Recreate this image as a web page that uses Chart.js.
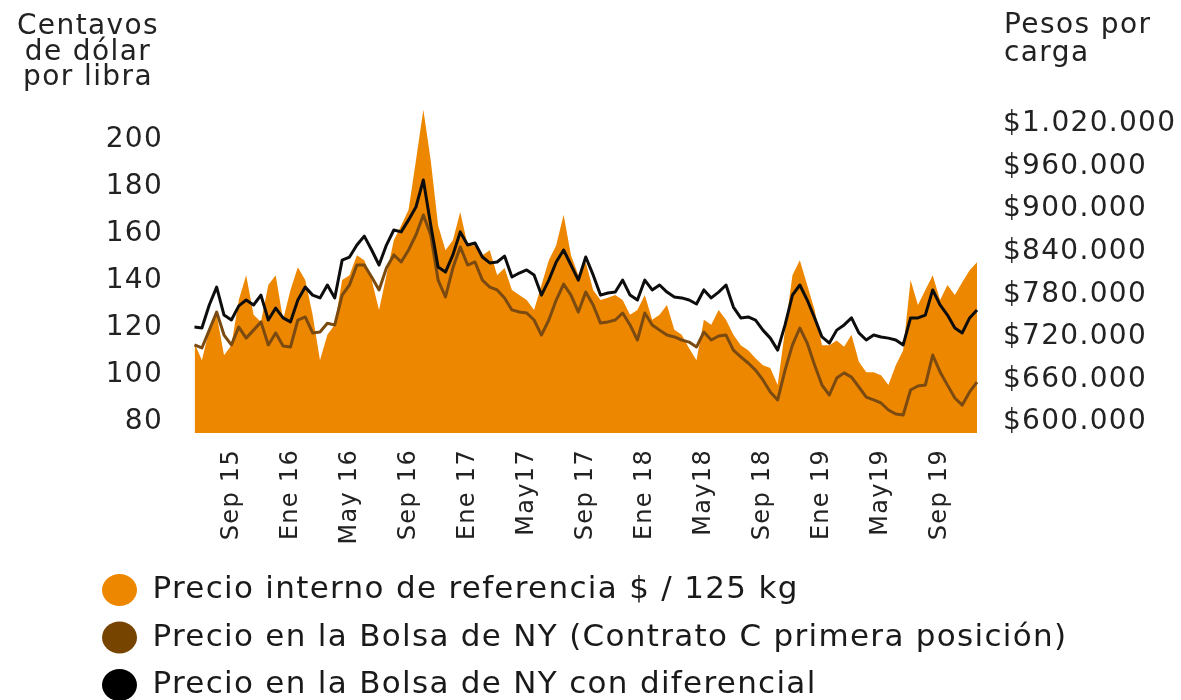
<!DOCTYPE html>
<html><head><meta charset="utf-8">
<script src="https://cdn.jsdelivr.net/npm/chart.js@4.4.1/dist/chart.umd.min.js"></script>
<style>
html,body{margin:0;padding:0;background:#fff;overflow:hidden;}
#wrap{position:relative;width:1181px;height:720px;}
.ttl{position:absolute;font-family:'DejaVu Sans',sans-serif;font-size:28px;letter-spacing:1.4px;color:#222;white-space:nowrap;}
</style></head><body>
<div id="wrap"><canvas id="c"></canvas>
<div class="ttl" style="left:0;width:176px;top:12px;line-height:25.5px;text-align:center">Centavos<br>de dólar<br>por libra</div>
<div class="ttl" style="left:1004px;top:10px;line-height:28px;text-align:left">Pesos por<br>carga</div>
</div>
<script>
const categories = [
"2015-06-15",
"2015-07-01","2015-07-15","2015-08-01","2015-08-15","2015-09-01","2015-09-15","2015-10-01","2015-10-15","2015-11-01","2015-11-15","2015-12-01","2015-12-15",
"2016-01-01","2016-01-15","2016-02-01","2016-02-15","2016-03-01","2016-03-15","2016-04-01","2016-04-15","2016-05-01","2016-05-15","2016-06-01","2016-06-15",
"2016-07-01","2016-07-15","2016-08-01","2016-08-15","2016-09-01","2016-09-15","2016-10-01","2016-10-15","2016-11-01","2016-11-15","2016-12-01","2016-12-15",
"2017-01-01","2017-01-15","2017-02-01","2017-02-15","2017-03-01","2017-03-15","2017-04-01","2017-04-15","2017-05-01","2017-05-15","2017-06-01","2017-06-15",
"2017-07-01","2017-07-15","2017-08-01","2017-08-15","2017-09-01","2017-09-15","2017-10-01","2017-10-15","2017-11-01","2017-11-15","2017-12-01","2017-12-15",
"2018-01-01","2018-01-15","2018-02-01","2018-02-15","2018-03-01","2018-03-15","2018-04-01","2018-04-15","2018-05-01","2018-05-15","2018-06-01","2018-06-15",
"2018-07-01","2018-07-15","2018-08-01","2018-08-15","2018-09-01","2018-09-15","2018-10-01","2018-10-15","2018-11-01","2018-11-15","2018-12-01","2018-12-15",
"2019-01-01","2019-01-15","2019-02-01","2019-02-15","2019-03-01","2019-03-15","2019-04-01","2019-04-15","2019-05-01","2019-05-15","2019-06-01","2019-06-15",
"2019-07-01","2019-07-15","2019-08-01","2019-08-15","2019-09-01","2019-09-15","2019-10-01","2019-10-15","2019-11-01","2019-11-15"
];
const tickDates = ["2015-09-01","2016-01-01","2016-05-01","2016-09-01","2017-01-01","2017-05-01","2017-09-01","2018-01-01","2018-05-01","2018-09-01","2019-01-01","2019-05-01","2019-09-01"];
const tickText = ["Sep 15","Ene 16","May 16","Sep 16","Ene 17","May17","Sep 17","Ene 18","May18","Sep 18","Ene 19","May19","Sep 19"];
const leftTicks = [80,100,120,140,160,180,200];
const rightTicks = [600000,660000,720000,780000,840000,900000,960000,1020000];
const seriesNames = ["Precio interno de referencia $ / 125 kg","Precio en la Bolsa de NY (Contrato C primera posición)","Precio en la Bolsa de NY con diferencial"];

// Pesos por carga (right axis)
const precioInterno = [
711000,687000,730000,751000,694000,708000,772000,807000,751000,741000,
793000,807000,744000,786000,818000,800000,751000,687000,723000,737000,
800000,807000,835000,828000,800000,758000,807000,856000,877000,899000,
969000,1040000,969000,877000,842000,856000,896000,849000,849000,835000,
842000,807000,817000,786000,779000,772000,758000,793000,828000,849000,
892000,835000,807000,825000,786000,772000,775000,779000,772000,751000,
758000,779000,744000,751000,765000,730000,723000,704000,687000,744000,
737000,758000,744000,723000,708000,701000,690000,680000,676000,652000,
730000,807000,828000,793000,758000,708000,708000,715000,706000,723000,
685000,670000,670000,666000,652000,680000,701000,800000,765000,786000,
807000,772000,793000,779000,797000,814000,825000
];
// Centavos de dólar por libra (left axis)
const bolsaNY = [
112.8,111.5,119.1,126.8,117.0,112.8,120.4,115.7,119.1,122.6,
112.8,117.9,112.3,111.9,123.4,124.7,117.9,118.3,122.0,121.3,
134.0,138.3,146.8,146.8,141.7,136.2,145.5,151.1,148.1,153.2,
159.6,168.1,159.6,140.4,133.2,145.5,154.5,146.8,148.1,140.4,
137.4,136.2,132.8,127.7,126.8,126.4,123.4,117.0,123.4,131.9,
138.7,134.0,126.8,135.3,129.8,122.1,122.6,123.4,126.4,121.3,
114.9,126.4,121.3,119.1,117.0,116.2,114.9,114.0,111.9,118.3,
114.9,116.6,117.0,110.6,107.7,105.1,102.1,97.9,92.8,89.4,
102.1,112.8,120.0,113.6,104.3,95.7,91.5,98.7,100.9,99.1,
94.9,90.6,89.4,88.1,85.1,83.4,83.0,93.6,95.3,95.7,
108.5,101.3,95.7,90.2,87.2,92.8,97.0
];
const bolsaNYDiferencial = [
120.4,120.0,129.8,137.4,125.5,123.4,129.4,131.9,129.8,134.0,
123.4,128.5,124.3,122.6,131.9,137.4,134.0,132.8,138.3,132.8,
148.9,150.2,155.3,159.1,153.2,146.8,155.3,161.7,160.9,166.0,
171.5,183.0,163.8,146.0,143.8,151.1,160.9,155.3,156.2,150.2,
147.7,148.1,150.6,141.7,143.4,144.7,142.6,134.0,140.4,148.1,
153.2,146.8,140.4,150.2,142.6,134.0,134.9,135.3,140.4,134.0,
131.9,140.4,136.2,138.3,135.3,133.2,132.8,131.9,130.2,136.2,
132.8,135.3,138.3,128.9,124.3,124.7,123.4,119.1,115.7,110.6,
121.3,134.0,138.3,131.9,124.3,116.2,113.6,119.1,121.3,124.3,
117.9,114.9,117.0,116.2,115.7,114.9,112.8,124.3,124.3,125.5,
136.2,129.8,125.5,120.0,117.9,124.3,127.7
];

const FONT = "'DejaVu Sans', sans-serif";
const fmtPesos = v => '$' + String(Math.round(v)).replace(/\B(?=(\d{3})+(?!\d))/g, '.');
const spacingPlugin = {
  id: 'letterSpacing',
  beforeLayout(c) { c.ctx.letterSpacing = '1.3px'; },
  beforeDraw(c) { c.ctx.letterSpacing = '1.3px'; }
};

new Chart(document.getElementById('c'), {
  type: 'line',
  data: {
    labels: categories,
    datasets: [
      { label: seriesNames[0], data: precioInterno, yAxisID: 'yR', fill: 'start',
        backgroundColor: '#EE8700', borderColor: '#EE8700', borderWidth: 0, pointRadius: 0, order: 3 },
      { label: seriesNames[1], data: bolsaNY, yAxisID: 'yL', fill: false,
        borderColor: '#7B4A10', backgroundColor: '#774400', borderWidth: 3, pointRadius: 0, order: 2 },
      { label: seriesNames[2], data: bolsaNYDiferencial, yAxisID: 'yL', fill: false,
        borderColor: '#0d0d0d', backgroundColor: '#000000', borderWidth: 3, pointRadius: 0, order: 1 }
    ]
  },
  options: {
    responsive: true, maintainAspectRatio: false, animation: false, events: [],
    devicePixelRatio: 1,
    layout: { padding: { left: 85.5, right: 0, top: 105, bottom: 9.5 } },
    elements: { line: { tension: 0, borderJoinStyle: 'round' }, point: { radius: 0 } },
    scales: {
      x: {
        grid: { display: false, drawTicks: false }, border: { display: false },
        ticks: {
          autoSkip: false, maxRotation: 90, minRotation: 90, padding: 16, color: '#222',
          font: { family: FONT, size: 24 },
          callback: (v, i) => { const k = tickDates.indexOf(categories[i]); return k >= 0 ? tickText[k] : ''; }
        },
        afterFit: s => { s.height = 125; }
      },
      yL: {
        position: 'left', min: 75.32, max: 214.9,
        grid: { display: false, drawTicks: false }, border: { display: false },
        afterBuildTicks: s => { s.ticks = leftTicks.map(v => ({ value: v })); },
        ticks: { padding: 31.5, color: '#222', font: { family: FONT, size: 28 } },
        afterFit: s => { s.width = 109; }
      },
      yR: {
        position: 'right', min: 584497, max: 1046780,
        grid: { display: false, drawTicks: false }, border: { display: false },
        afterBuildTicks: s => { s.ticks = rightTicks.map(v => ({ value: v })); },
        ticks: { padding: 26, color: '#222', font: { family: FONT, size: 28 }, callback: v => fmtPesos(v) },
        afterFit: s => { s.width = 204; }
      }
    },
    plugins: {
      legend: {
        position: 'bottom', align: 'start',
        labels: {
          usePointStyle: true, pointStyle: 'circle', pointStyleWidth: 35, boxHeight: 22.6,
          padding: 16.5, color: '#1a1a1a', font: { family: FONT, size: 31 },
          sort: (a, b) => a.datasetIndex - b.datasetIndex,
          generateLabels: chart => Chart.defaults.plugins.legend.labels.generateLabels(chart)
            .map(l => Object.assign(l, { lineWidth: 0, strokeStyle: l.fillStyle }))
        }
      },
      tooltip: { enabled: false }
    }
  },
  plugins: [spacingPlugin]
});
</script>
</body></html>
